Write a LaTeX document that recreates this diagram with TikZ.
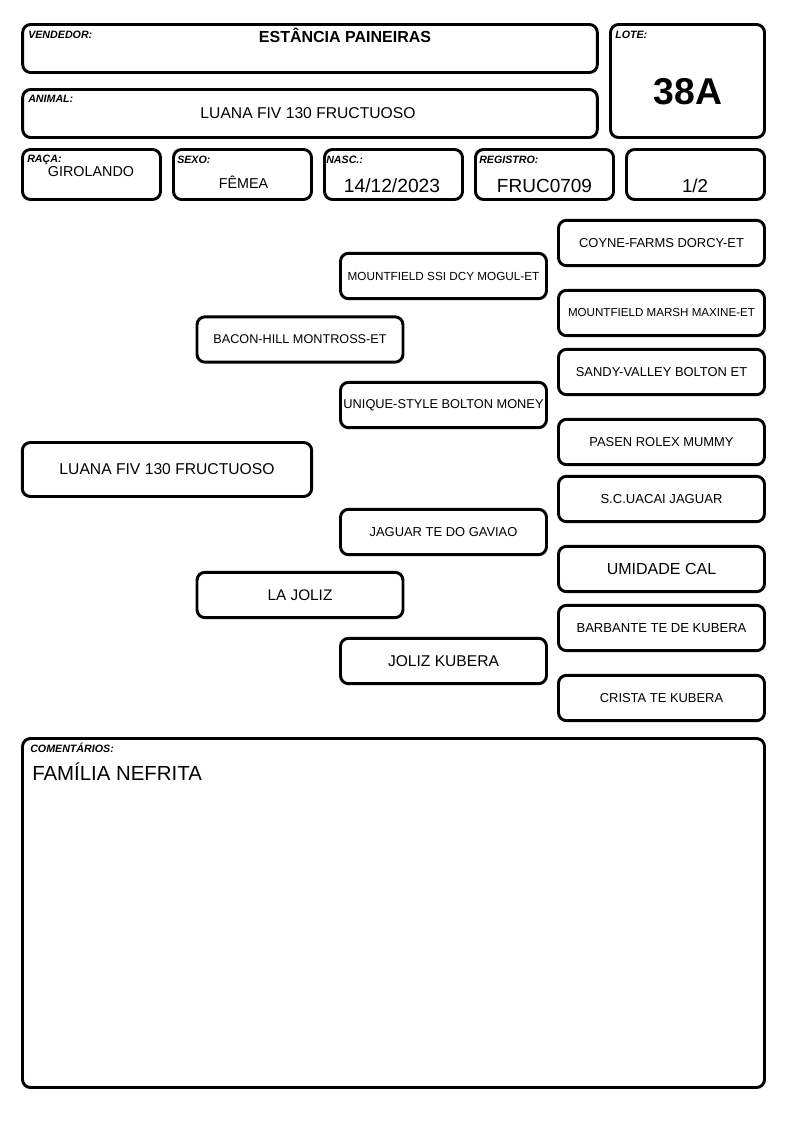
\documentclass[tikz,border=0pt]{standalone}
\usepackage{fontspec}
\setmainfont{Liberation Sans}
\usetikzlibrary{positioning}

\begin{document}
\begin{tikzpicture}[x=0.75pt, y=-0.75pt,
	box/.style={draw, line width=2.2pt, rounded corners=6pt, inner sep=0pt, outer sep=0pt},
	ped/.style={box, minimum width=154.5pt, minimum height=34pt},
	lbl/.style={anchor=base west, inner sep=0pt, font=\fontsize{8}{8}\selectfont\bfseries\itshape},
	val/.style={anchor=base, inner sep=0pt}]
	\useasboundingbox (0,0) rectangle (794,1123);
	% cabecalho
	\node [box, minimum width=431pt, minimum height=36pt] (vendedor) at (310,48.5) {};
	\node [box, minimum width=431pt, minimum height=36pt] (animal) at (310,113.5) {};
	\node [box, minimum width=115.5pt, minimum height=84.75pt] (lote) at (687.5,81) {};
	\node [box, minimum width=103.5pt, minimum height=37.5pt] (raca) at (91.5,174.5) {};
	\node [box, minimum width=103.5pt, minimum height=37.5pt, right=9.75pt of raca] (sexo) {};
	\node [box, minimum width=103.5pt, minimum height=37.5pt, right=9.75pt of sexo] (nasc) {};
	\node [box, minimum width=103.5pt, minimum height=37.5pt, right=9.75pt of nasc] (registro) {};
	\node [box, minimum width=103.5pt, minimum height=37.5pt, right=9.75pt of registro] (grau) {};
	\node [lbl] (vendedor-l) at (28,39) {VENDEDOR:};
	\node [lbl] (lote-l) at (615,39) {LOTE:};
	\node [lbl] (animal-l) at (28,103) {ANIMAL:};
	\node [lbl] (raca-l) at (27,163) {RAÇA:};
	\node [lbl] (sexo-l) at (177,164) {SEXO:};
	\node [lbl] (nasc-l) at (326,164) {NASC.:};
	\node [lbl] (registro-l) at (479,164) {REGISTRO:};
	\node [val, font=\fontsize{12}{12}\selectfont\bfseries] (vendedor-v) at (345,42.5) {ESTÂNCIA PAINEIRAS};
	\node [val, font=\fontsize{28}{28}\selectfont\bfseries] (lote-v) at (688,104.5) {38A};
	\node [val, font=\fontsize{11.75}{12}\selectfont] (animal-v) at (308,118.5) {LUANA FIV 130 FRUCTUOSO};
	\node [val, font=\fontsize{10.75}{12}\selectfont] (raca-v) at (91,177) {GIROLANDO};
	\node [val, font=\fontsize{10.75}{12}\selectfont] (sexo-v) at (243.5,189) {FÊMEA};
	\node [val, font=\fontsize{14.4}{15}\selectfont] (nasc-v) at (392,193) {14/12/2023};
	\node [val, font=\fontsize{14.25}{15}\selectfont] (registro-v) at (544.5,193) {FRUC0709};
	\node [val, font=\fontsize{14}{15}\selectfont] (grau-v) at (695,193) {1/2};
	% genealogia
	\node [box, minimum width=217pt, minimum height=40.5pt, font=\fontsize{11.75}{12}\selectfont] (1) at (167,469.5) {LUANA FIV 130 FRUCTUOSO};
	\node [ped, font=\fontsize{9.5}{10}\selectfont] (2) at (300,339.5) {BACON-HILL MONTROSS-ET};
	\node [ped, font=\fontsize{11.5}{12}\selectfont] (3) at (300,595) {LA JOLIZ};
	\node [ped, font=\fontsize{8.8}{10}\selectfont] (4) at (443.5,276) {MOUNTFIELD SSI DCY MOGUL-ET};
	\node [ped, font=\fontsize{9.6}{10}\selectfont] (5) at (443.5,405) {UNIQUE-STYLE BOLTON MONEY};
	\node [ped, font=\fontsize{9.7}{10}\selectfont] (6) at (443.5,532) {JAGUAR TE DO GAVIAO};
	\node [ped, font=\fontsize{11.7}{12}\selectfont] (7) at (443.5,661) {JOLIZ KUBERA};
	\node [ped, font=\fontsize{9.7}{10}\selectfont] (8) at (661.5,243) {COYNE-FARMS DORCY-ET};
	\node [ped, font=\fontsize{8.7}{10}\selectfont] (9) at (661.5,313) {MOUNTFIELD MARSH MAXINE-ET};
	\node [ped, font=\fontsize{9.7}{10}\selectfont] (10) at (661.5,372) {SANDY-VALLEY BOLTON ET};
	\node [ped, font=\fontsize{9.7}{10}\selectfont] (11) at (661.5,442) {PASEN ROLEX MUMMY};
	\node [ped, font=\fontsize{9.8}{10}\selectfont] (12) at (661.5,499) {S.C.UACAI JAGUAR};
	\node [ped, font=\fontsize{12}{12}\selectfont] (13) at (661.5,569) {UMIDADE CAL};
	\node [ped, font=\fontsize{9.8}{10}\selectfont] (14) at (661.5,628) {BARBANTE TE DE KUBERA};
	\node [ped, font=\fontsize{9.7}{10}\selectfont] (15) at (661.5,698) {CRISTA TE KUBERA};
	% comentarios
	\node [box, minimum width=556.5pt, minimum height=261.75pt] (comentarios) at (393.5,913) {};
	\node [lbl] (comentarios-l) at (30,752) {COMENTÁRIOS:};
	\node [anchor=base west, inner sep=0pt, font=\fontsize{15.3}{16}\selectfont] (comentarios-v) at (32,780) {FAMÍLIA NEFRITA};
\end{tikzpicture}
\end{document}
